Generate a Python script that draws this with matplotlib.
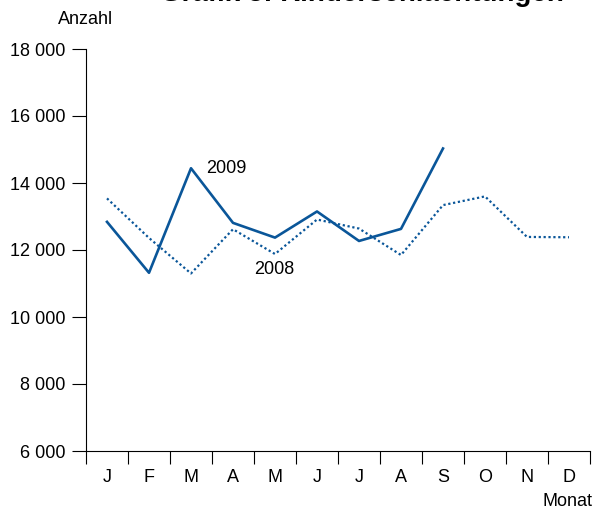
import numpy as np
import matplotlib.pyplot as plt
from matplotlib.ticker import FixedLocator

plt.rcParams['font.family'] = ['Liberation Sans', 'DejaVu Sans']

# Monatswerte
months = ['J', 'F', 'M', 'A', 'M', 'J', 'J', 'A', 'S', 'O', 'N', 'D']
y2008 = [13540, 12360, 11300, 12620, 11880, 12910, 12640, 11850, 13340, 13600, 12390, 12380]
y2009 = [12840, 11320, 14440, 12810, 12370, 13150, 12270, 12630, 15030]
yticks = [6000, 8000, 10000, 12000, 14000, 16000, 18000]
ylabels = ['6 000', '8 000', '10 000', '12 000', '14 000', '16 000', '18 000']

blue = '#0a5699'

fig = plt.figure(figsize=(5.92, 5.09), dpi=100)
ax = fig.add_axes([86/592, 58/509, 504/592, 402/509])

x = np.arange(1, 13)
ax.plot(x, y2008, color=blue, lw=1.6, ls=(0, (1, 1.2)))
ax.plot(x[:len(y2009)], y2009, color=blue, lw=1.9)

ax.set_xlim(0.5, 12.5)
ax.set_ylim(6000, 18000)
ax.set_yticks(yticks)
ax.set_yticklabels(ylabels)
ax.set_xticks(x)
ax.set_xticklabels(months)
ax.xaxis.set_minor_locator(FixedLocator(np.arange(0.5, 13, 1)))

ax.tick_params(axis='x', which='major', length=0, pad=13, labelsize=13)
ax.tick_params(axis='x', which='minor', length=9.5, width=0.8)
ax.tick_params(axis='y', length=10, width=0.8, labelsize=13, pad=5)

ax.spines['top'].set_visible(False)
ax.spines['right'].set_visible(False)
ax.spines['left'].set_linewidth(0.8)
ax.spines['bottom'].set_linewidth(0.8)

ax.text(3.35, 14420, '2009', fontsize=13, va='center')
ax.text(4.5, 11420, '2008', fontsize=13, va='center')

fig.text(58/592, 1 - 20/509, 'Anzahl', fontsize=13, va='center')
fig.text(592/592, 1 - 502/509, 'Monat', fontsize=13, ha='right', va='center')
fig.text(362/592, 1 - 1/509, 'Grafik 3: Rinderschlachtungen', fontsize=20,
         fontweight='bold', ha='center', va='baseline')

fig.savefig('out.png', dpi=100)
